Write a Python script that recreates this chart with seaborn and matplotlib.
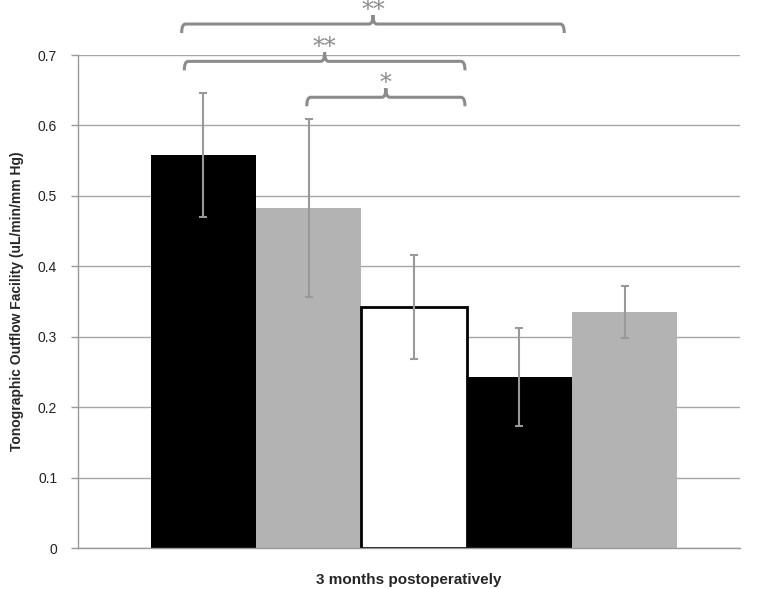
import numpy as np
import pandas as pd
import matplotlib.pyplot as plt
import seaborn as sns
from matplotlib.path import Path
from matplotlib.patches import PathPatch

# data
groups = ["G1", "G2", "G3", "G4", "G5"]
means = [0.558, 0.483, 0.342, 0.243, 0.335]
errs = [0.088, 0.126, 0.074, 0.070, 0.037]
colors = ["#000000", "#b3b3b3", "#ffffff", "#000000", "#b3b3b3"]
category = "3 months postoperatively"

# significance brackets: (x start, x end, y level, label)
br_x0 = [-0.351, -0.347, -0.162]
br_x1 = [0.227, 0.077, 0.077]
br_y = [0.744, 0.691, 0.640]
br_txt = ["**", "**", "*"]

sns.set_style("white")
plt.rcParams['font.family'] = ['Liberation Sans', 'DejaVu Sans']

fig = plt.figure(figsize=(7.57, 5.89), dpi=100)
ax = fig.add_axes([0.103, 0.0696, 0.8745, 0.837])

df = pd.DataFrame({"when": [category] * 5, "grp": groups, "val": means})
sns.barplot(data=df, x="when", y="val", hue="grp", palette=colors,
            width=0.795, errorbar=None, legend=False, ax=ax,
            linewidth=0, saturation=1)

bars = ax.patches[:5]
centers = [b.get_x() + b.get_width() / 2 for b in bars]
bars[2].set_edgecolor("black")
bars[2].set_linewidth(2)
ax.errorbar(centers, means, yerr=errs, fmt="none", ecolor="#999999",
            elinewidth=1.5, capsize=3, capthick=1.5, zorder=5)

ax.set_xlim(-0.5076, 0.4924)
ax.set_ylim(0, 0.7)
ax.set_yticks(np.arange(0, 0.71, 0.1))
ax.set_yticklabels(["0", "0.1", "0.2", "0.3", "0.4", "0.5", "0.6", "0.7"])
ax.set_xticks([])
ax.yaxis.grid(True, color="#a6a6a6", linewidth=1)
ax.set_axisbelow(True)
for s in ["top", "right"]:
    ax.spines[s].set_visible(False)
for s in ["left", "bottom"]:
    ax.spines[s].set_color("#999999")
    ax.spines[s].set_linewidth(1)
ax.tick_params(axis="y", left=True, length=5, width=1, color="#999999",
               labelsize=10, pad=10, labelcolor="#222222")
ax.set_ylabel("Tonographic Outflow Facility (uL/min/mm Hg)", fontsize=10,
              fontweight="bold", labelpad=10)
ax.set_xlabel(category, fontsize=11, fontweight="bold", labelpad=18)


def brace(x0, x1, y, h=0.0128, r=0.006):
    xm = (x0 + x1) / 2
    verts = [(x0, y - h), (x0, y), (x0 + r, y),
             (xm - r, y), (xm, y), (xm, y + h),
             (xm, y), (xm + r, y),
             (x1 - r, y), (x1, y), (x1, y - h)]
    codes = [Path.MOVETO, Path.CURVE3, Path.CURVE3,
             Path.LINETO, Path.CURVE3, Path.CURVE3,
             Path.CURVE3, Path.CURVE3,
             Path.LINETO, Path.CURVE3, Path.CURVE3]
    ax.add_patch(PathPatch(Path(verts, codes), fill=False, edgecolor="#8c8c8c",
                           linewidth=2.2, clip_on=False, zorder=6))


for x0, x1, y, t in zip(br_x0, br_x1, br_y, br_txt):
    brace(x0, x1, y)
    ax.text((x0 + x1) / 2, y + 0.003, t, ha="center", va="bottom",
            fontsize=17, color="#8c8c8c", family="DejaVu Serif", clip_on=False)

fig.savefig("out.png", dpi=100)
